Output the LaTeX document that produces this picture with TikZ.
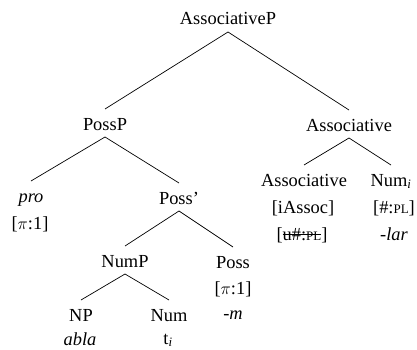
\documentclass[tikz,border=0pt]{standalone}
\usepackage{fontspec}
\setmainfont{Liberation Serif}
\usetikzlibrary{positioning}

\newcommand{\featpl}{{\fontsize{13}{13}\selectfont PL}}
\newsavebox{\strkbox}
\newcommand{\strk}[1]{\sbox\strkbox{#1}%
  \rlap{\rule[0.3em]{\wd\strkbox}{0.05em}}\usebox\strkbox}

\begin{document}
\begin{tikzpicture}[x=1pt, y=-1pt,
      font=\fontsize{18.4}{22}\selectfont,
      cat/.style={anchor=base, inner sep=5pt, outer sep=0pt,
                  text height=16pt, text depth=2pt},
      feat/.style={anchor=base, inner sep=0pt},
      branch/.style={line width=0.7pt}
    ]
    \useasboundingbox (0,0) rectangle (417,350);

    % Kategorien
    \node[cat] (root)     at (228,25)  {AssociativeP};
    \node[cat] (possp)    at (105,130) {PossP};
    \node[cat] (assocbar) at (349,131) {Associative};
    \node[cat] (pro)      at (31,202)  {\textit{pro}};
    \node[cat] (possbar)  at (179,204) {Poss'};
    \node[cat] (assochd)  at (304,186) {Associative};
    \node[cat] (numi)     at (391,186) {Num\textsubscript{\textit{i}}};
    \node[cat] (nump)     at (125,267) {NumP};
    \node[cat] (poss)     at (233,268) {Poss};
    \node[cat] (np)       at (81,321)  {NP};
    \node[cat] (num)      at (169,321) {Num};

    % Merkmale und Formen
    \node[feat] (profeat)   at (30,229)  {[$\pi$:1]};
    \node[feat] (assocfa)   at (303,213) {[iAssoc]};
    \node[feat] (assocfb)   at (302,240) {[\strk{u\#:\featpl}]};
    \node[feat] (numifeat)  at (394,213) {[\#:\featpl]};
    \node[feat] (numiform)  at (394,240) {\textit{-lar}};
    \node[feat] (possfeat)  at (233,294) {[$\pi$:1]};
    \node[feat] (possform)  at (233,319) {\textit{-m}};
    \node[feat] (npform)    at (80,345)  {\textit{abla}};
    \node[feat] (numform)   at (168,344) {t\textsubscript{\textit{i}}};

    % Aeste
    \foreach \a/\b in {root/possp, root/assocbar, possp/pro, possp/possbar,
                       assocbar/assochd, assocbar/numi, possbar/nump,
                       possbar/poss, nump/np, nump/num}
      \draw[branch] (\a.south) -- (\b.north);
  \end{tikzpicture}
\end{document}
